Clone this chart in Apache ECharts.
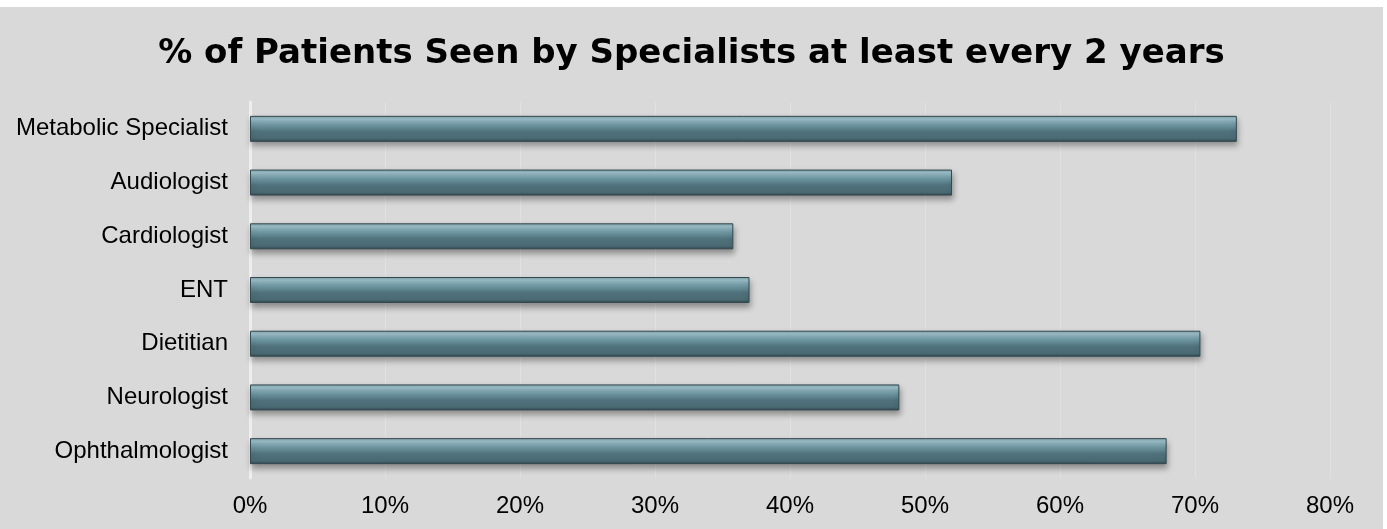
<!DOCTYPE html>
<html>
<head>
<meta charset="utf-8">
<script src="https://cdn.jsdelivr.net/npm/echarts@6/dist/echarts.min.js"></script>
<style>
html,body{margin:0;padding:0;background:#ffffff;}
#chart{position:absolute;left:0;top:7px;width:1383px;height:522px;background:#d9d9d9;}
</style>
</head>
<body>
<div id="chart"></div>
<script>
const categories = ["Metabolic Specialist","Audiologist","Cardiologist","ENT","Dietitian","Neurologist","Ophthalmologist"];
const values = [73.1, 52.0, 35.8, 37.0, 70.4, 48.1, 67.9];
const tickValues = [0,10,20,30,40,50,60,70,80];
const titleText = "% of Patients Seen by Specialists at least every 2 years";

const chart = echarts.init(document.getElementById('chart'), null, {renderer:'canvas'});
chart.setOption({
  backgroundColor: '#d9d9d9',
  animation: false,
  title: {
    text: titleText,
    left: 'center',
    top: 25,
    textStyle: {
      fontFamily: 'DejaVu Sans, sans-serif',
      fontSize: 34,
      fontWeight: 'bold',
      color: '#000'
    }
  },
  grid: {left: 250, right: 53, top: 95, bottom: 51, containLabel: false},
  xAxis: {
    type: 'value',
    min: 0, max: 80, interval: 10,
    axisLine: {show: false},
    axisTick: {show: false},
    splitLine: {show: true, lineStyle: {color: '#e1e1e1', width: 1}},
    axisLabel: {
      margin: 16,
      fontFamily: 'Liberation Sans, Arial, sans-serif',
      fontSize: 24,
      color: '#000',
      formatter: v => tickValues.includes(v) ? v + '%' : ''
    }
  },
  yAxis: {
    type: 'category',
    data: categories,
    inverse: true,
    axisLine: {show: true, lineStyle: {color: '#eeeeee', width: 3}},
    axisTick: {show: false},
    axisLabel: {
      margin: 22,
      fontFamily: 'Liberation Sans, Arial, sans-serif',
      fontSize: 24,
      color: '#000'
    }
  },
  series: [{
    type: 'bar',
    data: values,
    barWidth: 26,
    itemStyle: {
      color: new echarts.graphic.LinearGradient(0,0,0,1,[
        {offset:0, color:'#7f9ea6'},
        {offset:0.12, color:'#9cc0ca'},
        {offset:0.35, color:'#6f98a3'},
        {offset:0.6, color:'#50727c'},
        {offset:0.88, color:'#4a6a73'},
        {offset:1, color:'#2f454c'}
      ]),
      borderColor: '#34494f',
      borderWidth: 1,
      shadowColor: 'rgba(0,0,0,0.35)',
      shadowBlur: 6,
      shadowOffsetY: 4,
      shadowOffsetX: 1
    }
  }]
});
</script>
</body>
</html>
